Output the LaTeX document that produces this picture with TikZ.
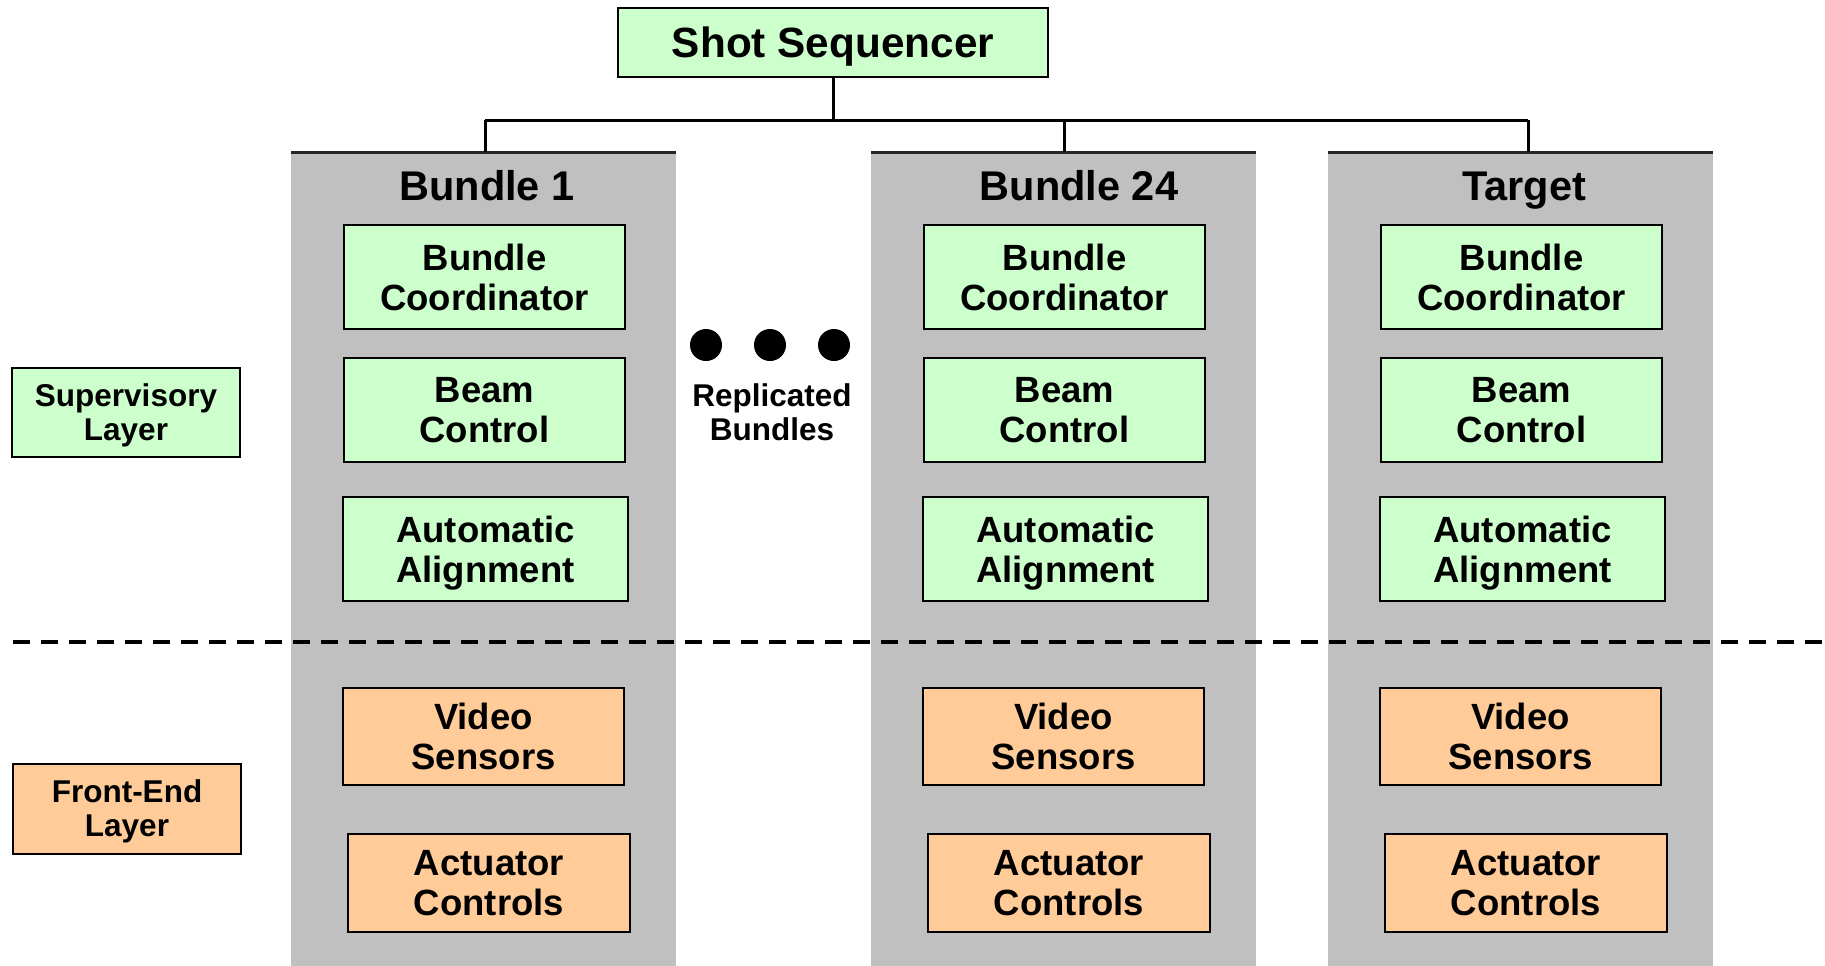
\documentclass[tikz,border=0pt]{standalone}
\usepackage{fontspec}
\setmainfont{Liberation Sans}
\definecolor{supgreen}{HTML}{CCFFCC}
\definecolor{feorange}{HTML}{FFCC99}
\definecolor{colgray}{HTML}{C0C0C0}
\newcommand{\boxfont}{\bfseries\fontsize{36.5}{40}\selectfont}
\newcommand{\headfont}{\bfseries\fontsize{41.5}{44}\selectfont}
\newcommand{\layerfont}{\bfseries\fontsize{31.5}{34}\selectfont}
\begin{document}
\begin{tikzpicture}[x=1pt,y=-1pt,
  every node/.style={inner sep=0pt, outer sep=0pt},
  wire/.style={line width=3pt, black},
  unitbox/.style={draw=black, line width=2pt, align=center, font=\boxfont},
  supbox/.style={unitbox, fill=supgreen},
  febox/.style={unitbox, fill=feorange},
  column/.style={fill=colgray, anchor=north west, minimum width=385pt, minimum height=820pt},
  coltitle/.style={font=\headfont, anchor=base},
  dot/.style={circle, fill=black, minimum size=32pt},
  divider/.style={line width=4.5pt, dash pattern=on 16.7pt off 11.3pt}]
\useasboundingbox (0,0) rectangle (1825,966);

% top-level sequencer
\node[supbox, font=\bfseries\fontsize{42.3}{44}\selectfont, minimum width=430pt, minimum height=69pt, text depth=0pt]
  (seq) at (833,42.5) {Shot Sequencer};
\coordinate (bus) at (833,120);

% bundle columns: left edge / name / title / title offset / tap offset
\foreach \cx/\nm/\ttl/\tx/\tap in {291/b1/Bundle 1/196/194,
                                   871/b24/Bundle 24/208/193,
                                   1328/tg/Target/196/200}{
  \node[column] (\nm) at (\cx,152) {};
  \draw[line width=3pt, black!85] (\nm.north west) -- (\nm.north east);
  \coordinate (\nm-tap) at (\cx+\tap,152);
  \node[coltitle] (\nm-title) at (\cx+\tx,200) {\ttl};
  \node[supbox, minimum width=281pt, minimum height=104pt] (\nm-bc) at (\cx+193.5,277) {Bundle\\Coordinator};
  \node[supbox, minimum width=281pt, minimum height=104pt] (\nm-beam) at (\cx+193.5,410) {Beam\\Control};
  \node[supbox, minimum width=285pt, minimum height=104pt] (\nm-aa) at (\cx+194.5,549) {Automatic\\\smash{Alignment}};
  \node[febox, minimum width=281pt, minimum height=97pt] (\nm-vs) at (\cx+192.5,736.5) {Video\\Sensors};
  \node[febox, minimum width=282pt, minimum height=98pt] (\nm-ac) at (\cx+198,883) {Actuator\\Controls};
}

% sequencer fan-out
\draw[wire] (seq.south) -- (bus);
\draw[wire] (b1-tap |- bus) -- (tg-tap |- bus);
\foreach \nm in {b1,b24,tg}{
  \draw[wire] (\nm-tap |- bus) -- (\nm-tap);
}

% replicated bundles marker
\node[dot] (dot1) at (706,345) {};
\node[dot] (dot2) at (770,345) {};
\node[dot] (dot3) at (834,345) {};
\node[font=\layerfont, align=center] (repl) at (772,412) {Replicated\\Bundles};

% layer legend
\node[supbox, font=\layerfont, minimum width=228pt, minimum height=89pt] (suplayer) at (126,412.5) {Supervisory\\\smash{Layer}};
\node[febox, font=\layerfont, minimum width=228pt, minimum height=90pt] (felayer) at (127,808.5) {Front-End\\\smash{Layer}};

% layer boundary
\coordinate (divL) at (13,642);
\coordinate (divR) at (1825,642);
\draw[divider] (divL) -- (divR);
\end{tikzpicture}
\end{document}
